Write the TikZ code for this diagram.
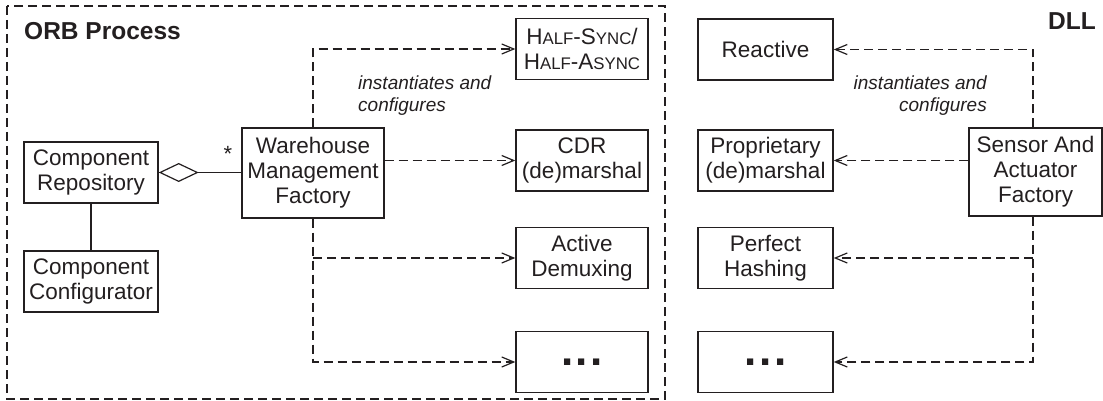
\documentclass[tikz,border=0pt]{standalone}
\usepackage{fontspec}
\setmainfont{Liberation Sans}
\usetikzlibrary{arrows.meta}
\definecolor{ink}{HTML}{231F20}
% reduced capitals for the pattern name
\newcommand{\smc}[1]{{\fontsize{16.8}{18}\selectfont #1}}
\begin{document}
\begin{tikzpicture}[x=1pt,y=-1pt,
  every node/.style={text=ink},
  box/.style={draw=ink, line width=1.4pt, align=center, inner sep=0pt,
    font=\fontsize{22.5}{25}\selectfont, minimum height=61pt},
  lbox/.style={box, minimum width=132pt},
  rbox/.style={box, minimum width=135pt},
  dotsbox/.style={font=\fontsize{44}{44}\selectfont\bfseries},
  framed/.style={draw=ink, line width=1.2pt, dash pattern=on 9pt off 5pt},
  dep/.style={framed, -{Straight Barb[length=12pt,width=10pt]}},
  solid link/.style={draw=ink, line width=1.2pt},
  title/.style={font=\bfseries\fontsize{24.5}{28}\selectfont, inner sep=0pt},
  note/.style={font=\itshape\fontsize{19}{22}\selectfont, inner sep=0pt}
]
\useasboundingbox (0,0) rectangle (1103,401);

% ORB process boundary
\draw[framed] (7,6) rectangle (665,399);
\node[title, anchor=base west] (orbtitle) at (24,40) {ORB Process};
\node[title, anchor=base east] (dlltitle) at (1096,30) {DLL};

% ORB side
\node[box, minimum width=134pt] (repo) at (91,172.5) {Component\\Repository};
\node[box, minimum width=134pt] (config) at (91,281.5) {Component\\Configurator};
\node[box, minimum width=142pt, minimum height=90pt] (wmf) at (313,173) {Warehouse\\Management\\Factory};

\node[lbox] (half) at (582,49) {H\smc{ALF}-S\smc{YNC}/\\H\smc{ALF}-A\smc{SYNC}};
\node[lbox] (cdr) at (582,160.5) {CDR\\(de)marshal};
\node[lbox] (active) at (582,258) {Active\\Demuxing};
\node[lbox, dotsbox] (dotsL) at (582,362) {.\kern2.5pt.\kern2.5pt.};

% DLL side
\node[rbox] (reactive) at (765.5,49.5) {Reactive};
\node[rbox] (propr) at (765.5,160.5) {Proprietary\\(de)marshal};
\node[rbox] (perfect) at (765.5,258) {Perfect\\Hashing};
\node[rbox, dotsbox] (dotsR) at (765.5,362) {.\kern2.5pt.\kern2.5pt.};
\node[box, minimum width=133pt, minimum height=88pt] (saf) at (1035.5,172) {Sensor And\\Actuator\\Factory};

% aggregation
\draw[solid link] (repo) -- (config);
\draw[solid link, {Diamond[open, length=40pt, width=19pt, line width=1.2pt]}-] (repo.east) -- (repo.east -| wmf.west);
\node[font=\fontsize{22}{25}\selectfont, inner sep=0pt] (mult) at (228,154) {*};

% dependencies of the warehouse factory
\draw[dep] (wmf.north) |- (half.west);
\draw[dep] (wmf.east |- cdr.west) -- (cdr.west);
\draw[dep] (wmf.south) |- (dotsL.west);
\draw[dep] (wmf.south |- active.west) -- (active.west);
\node[note, anchor=north west, align=left] (instL) at (358,76) {instantiates and\\configures};

% dependencies of the sensor factory
\draw[dep] (saf.north -| 1033,0) |- (reactive.east);
\draw[dep] (saf.west |- propr.east) -- (propr.east);
\draw[dep] (saf.south -| 1033,0) |- (dotsR.east);
\draw[dep] (1033,0 |- perfect.east) -- (perfect.east);
\node[note, anchor=north east, align=right] (instR) at (987,76) {instantiates and\\configures};
\end{tikzpicture}
\end{document}
